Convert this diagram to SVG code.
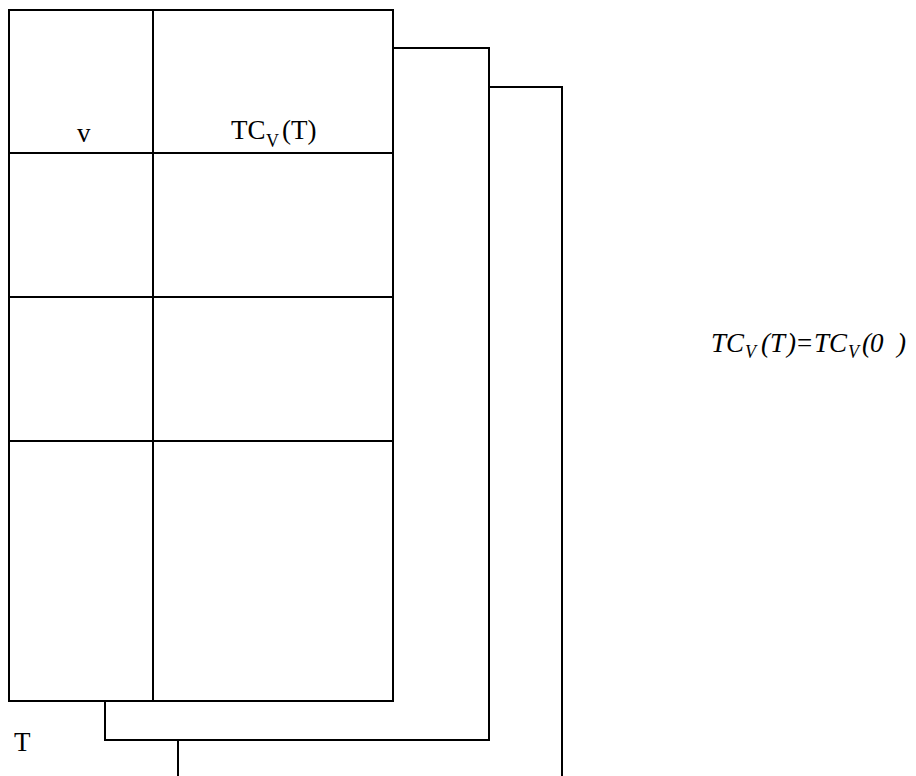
<svg xmlns="http://www.w3.org/2000/svg" width="916" height="776" viewBox="0 0 916 776">
<style>
.ln{fill:none;stroke:#000;stroke-width:2}
.t{font-family:"Liberation Serif","Times New Roman",serif;font-size:27px;fill:#000}
.s{font-size:18px}
.i{font-style:italic}
</style>
<rect width="916" height="776" fill="#fff"/>
<g id="connectors">
<polyline class="ln" points="393,48 489,48 489,740 105,740 105,701"/>
<polyline class="ln" points="489,87 562,87 562,776"/>
<line class="ln" x1="178" y1="740" x2="178" y2="776"/>
</g>
<g id="table">
<rect class="ln" x="9" y="10" width="384" height="691"/>
<line class="ln" x1="153" y1="10" x2="153" y2="701"/>
<line class="ln" x1="9" y1="153" x2="393" y2="153"/>
<line class="ln" x1="9" y1="297" x2="393" y2="297"/>
<line class="ln" x1="9" y1="441" x2="393" y2="441"/>
</g>
<g id="header-v"><text class="t" x="77" y="142">v</text></g>
<g id="header-tc"><text class="t" x="231" y="139">TC<tspan class="s" x="266" y="147">V</tspan><tspan x="282" y="139">(T)</tspan></text></g>
<g id="label-T"><text class="t" x="14" y="751">T</text></g>
<g id="formula"><text class="t i" x="711" y="352">TC<tspan class="s" x="745" y="358">V</tspan><tspan x="761" y="352">(</tspan><tspan x="770" y="352">T</tspan><tspan x="787" y="352">)</tspan><tspan x="797" y="352" font-style="normal">=</tspan><tspan x="814" y="352">TC</tspan><tspan class="s" x="848" y="358">V</tspan><tspan x="862" y="352">(</tspan><tspan x="870" y="352">0</tspan><tspan x="897" y="352">)</tspan></text></g>
</svg>
